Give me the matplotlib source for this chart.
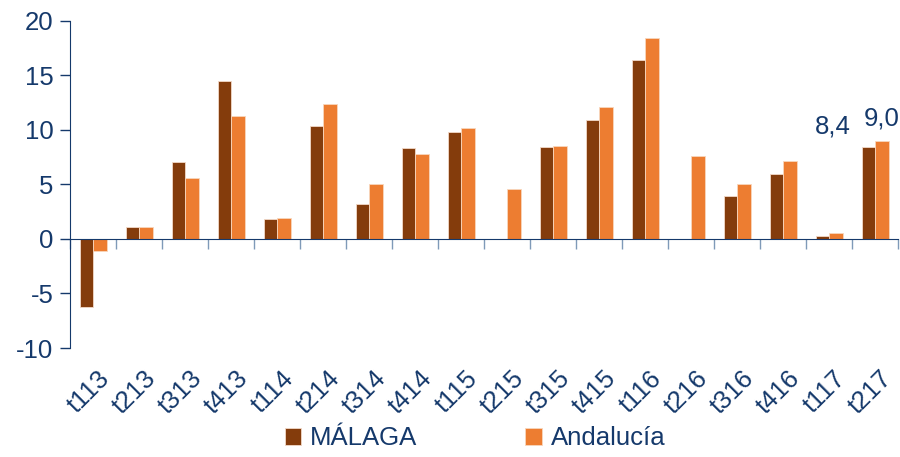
import numpy as np
import matplotlib.pyplot as plt

# --- Data ---
quarters = ["t113", "t213", "t313", "t413", "t114", "t214", "t314", "t414", "t115",
            "t215", "t315", "t415", "t116", "t216", "t316", "t416", "t117", "t217"]
malaga = [-6.2, 1.1, 7.0, 14.5, 1.8, 10.3, 3.2, 8.3, 9.8,
          0.0, 8.4, 10.9, 16.4, 0.0, 3.9, 5.9, 0.3, 8.4]
andalucia = [-1.1, 1.1, 5.6, 11.3, 1.9, 12.4, 5.0, 7.8, 10.2,
             4.6, 8.5, 12.1, 18.4, 7.6, 5.0, 7.1, 0.5, 9.0]

navy = "#15396b"
brown = "#843c0c"
orange = "#ed7d31"

plt.rcParams['font.family'] = ['Liberation Sans', 'DejaVu Sans']

fig = plt.figure(figsize=(9, 4.57), dpi=100)
ax = fig.add_axes([0.078, 0.2385, 0.92, 0.7165])

x = np.arange(len(quarters))
w = 0.29
ax.bar(x - w / 2, malaga, w, color=brown, edgecolor="#f3d9c8", linewidth=0.6, label="MÁLAGA")
ax.bar(x + w / 2, andalucia, w, color=orange, edgecolor="#f8d7bd", linewidth=0.6, label="Andalucía")

# labels on the last group
ax.annotate("8,4", (x[-1] - w / 2, malaga[-1]), xytext=(-26, 6), textcoords="offset points",
            ha="center", va="bottom", fontsize=18.5, color=navy)
ax.annotate("9,0", (x[-1] + w / 2, andalucia[-1]), xytext=(0, 7), textcoords="offset points",
            ha="center", va="bottom", fontsize=18.5, color=navy)

ax.set_xlim(-0.5, len(quarters) - 0.5)
ax.set_ylim(-10, 20)
ax.set_yticks([-10, -5, 0, 5, 10, 15, 20])
ax.set_yticklabels(["-10", "-5", "0", "5", "10", "15", "20"])
ax.tick_params(axis="y", colors=navy, labelsize=18.5, length=7, width=1, direction="out", pad=5)

# x axis line at zero with boundary ticks
ax.spines["bottom"].set_position(("data", 0))
ax.spines["bottom"].set_color(navy)
ax.spines["left"].set_color(navy)
ax.spines["top"].set_visible(False)
ax.spines["right"].set_visible(False)
ax.set_xticks(np.arange(len(quarters) + 1) - 0.5)
ax.set_xticklabels([])
ax.tick_params(axis="x", length=7, width=1, color="#7f9ab8", direction="out")

# category labels at the bottom
sec = ax.secondary_xaxis(0)
sec.spines["bottom"].set_visible(False)
sec.set_xticks(x + 0.1)
sec.set_xticklabels(quarters, rotation=45, ha="right", rotation_mode="anchor")
sec.tick_params(length=0, labelsize=18.5, colors=navy, pad=13)

leg = fig.legend(loc="lower center", bbox_to_anchor=(0.528, -0.025), ncol=2, frameon=False,
                 fontsize=18.5, handlelength=0.65, handleheight=0.65, handletextpad=0.35,
                 columnspacing=4.2, borderpad=0.2)
for t in leg.get_texts():
    t.set_color(navy)

fig.savefig("out.png", dpi=100)
